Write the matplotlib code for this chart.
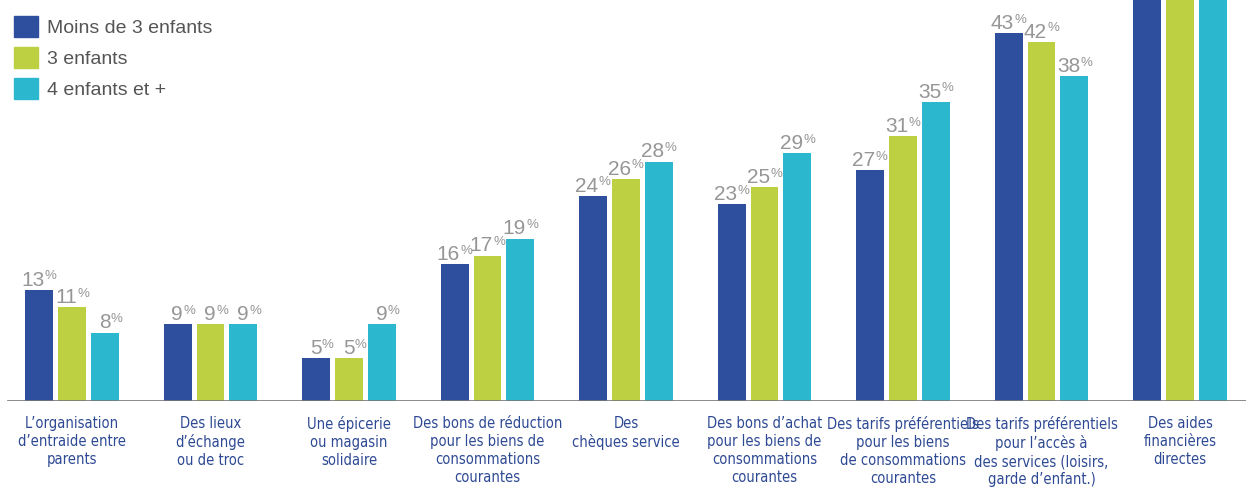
import numpy as np
import matplotlib.pyplot as plt
from matplotlib.patches import Patch
from matplotlib import font_manager as fm

# Données
categories = [
    "L’organisation\nd’entraide entre\nparents",
    "Des lieux\nd’échange\nou de troc",
    "Une épicerie\nou magasin\nsolidaire",
    "Des bons de réduction\npour les biens de\nconsommations\ncourantes",
    "Des\nchèques service",
    "Des bons d’achat\npour les biens de\nconsommations\ncourantes",
    "Des tarifs préférentiels\npour les biens\nde consommations\ncourantes",
    "Des tarifs préférentiels\npour l’accès à\ndes services (loisirs,\ngarde d’enfant.)",
    "Des aides\nfinancières\ndirectes",
]
moins_3 = [13, 9, 5, 16, 24, 23, 27, 43, 55]   # dernière valeur coupée dans l'original
enf_3 = [11, 9, 5, 17, 26, 25, 31, 42, 55]
enf_4 = [8, 9, 9, 19, 28, 29, 35, 38, 55]
series_names = ["Moins de 3 enfants", "3 enfants", "4 enfants et +"]

colors = ["#2e4e9e", "#bdd042", "#2bb8ce"]
label_grey = "#969696"
cat_blue = "#2e4a94"

plt.rcParams['font.family'] = ["Liberation Sans", "DejaVu Sans"]

# police étroite si disponible, sinon Liberation Sans plus petite
cat_font = dict(family="Liberation Sans", fontsize=9.5, linespacing=1.35)
for fam in ["Liberation Sans Narrow", "DejaVu Sans"]:
    try:
        p = fm.findfont(fm.FontProperties(family=fam, stretch="condensed"),
                        fallback_to_default=False)
        if "Narrow" in p or "Condensed" in p:
            cat_font = dict(family=fam, stretch="condensed", fontsize=10.5,
                            linespacing=1.23)
            break
    except Exception:
        pass

fig = plt.figure(figsize=(12.46, 4.91), dpi=100)
ax = fig.add_axes([0, 90 / 491, 1, 401 / 491])

x = np.arange(len(categories))
w = 0.202
off = 0.238
ymax = 401 / 8.55

for k, vals in enumerate([moins_3, enf_3, enf_4]):
    pos = x + (k - 1) * off
    ax.bar(pos, vals, width=w, color=colors[k], zorder=2)
    for xi, v in zip(pos, vals):
        if v > ymax:
            continue
        ax.annotate(str(v), (xi, v), xytext=(4, 3), textcoords='offset points',
                    ha='right', va='baseline', fontsize=15, color=label_grey)
        ax.annotate("%", (xi, v), xytext=(4, 7.5), textcoords='offset points',
                    ha='left', va='baseline', fontsize=9.5, color=label_grey)

ax.set_xlim(-72 / 138.5, 8 + 66 / 138.5)
ax.set_ylim(0, ymax)
ax.axhline(0, xmin=8 / 1246, xmax=1, color="#777777", lw=1.2, zorder=3)
for s in ax.spines.values():
    s.set_visible(False)
ax.set_xticks([])
ax.set_yticks([])

for xi, cat in zip(x, categories):
    ax.annotate(cat, (xi, 0), xytext=(0, -11), textcoords='offset points',
                ha='center', va='top', color=cat_blue, **cat_font)

handles = [Patch(color=c) for c in colors]
fig.legend(handles, series_names, loc='upper left', bbox_to_anchor=(0.0, 0.995),
           frameon=False, fontsize=14, labelcolor="#555555",
           handlelength=1.25, handleheight=1.3, handletextpad=0.45,
           labelspacing=0.5, borderaxespad=0.3)

fig.savefig("out.png", dpi=100)
